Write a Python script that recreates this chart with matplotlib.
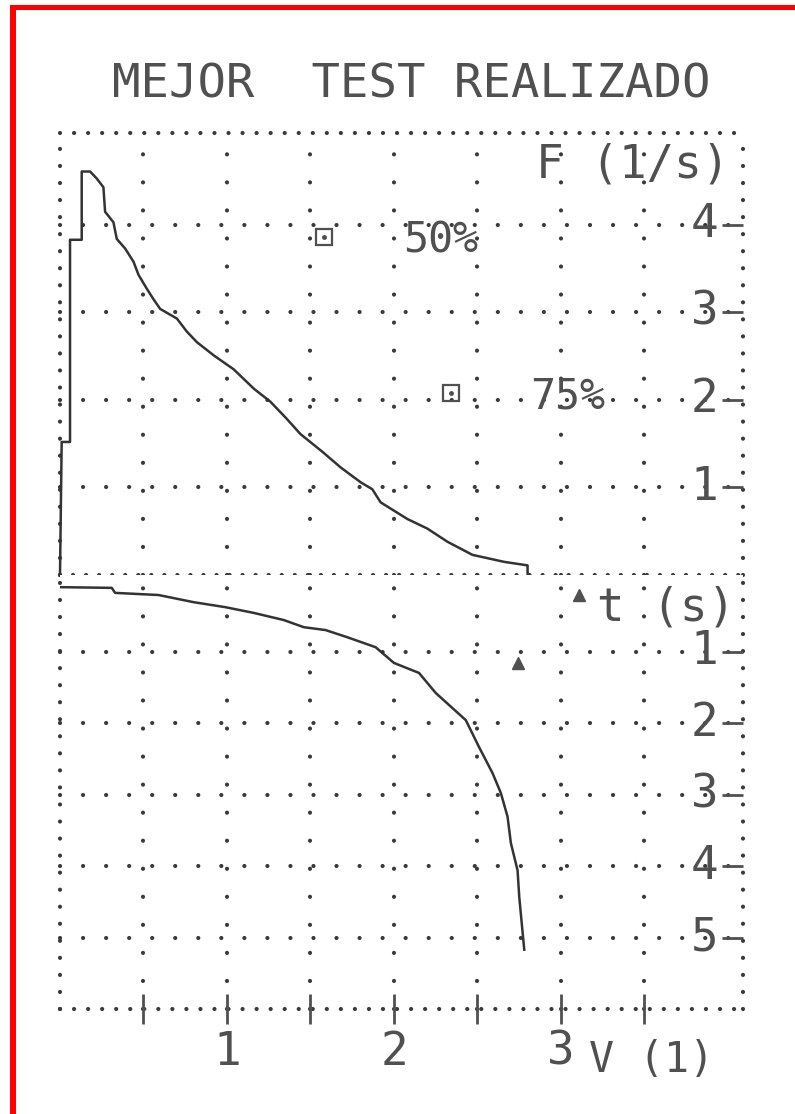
import matplotlib
matplotlib.use("Agg")
import matplotlib.pyplot as plt
from matplotlib.patches import Rectangle

plt.rcParams['font.family'] = ['DejaVu Sans Mono', 'DejaVu Sans']

# flow-volume curve (top half): volume in litres, flow in l/s
fv_volume = [0.0, 0.01, 0.06, 0.06, 0.13, 0.13, 0.18, 0.22, 0.26, 0.27, 0.32, 0.34,
             0.39, 0.44, 0.47, 0.52, 0.56, 0.60, 0.70, 0.76, 0.82, 0.92, 1.04, 1.16,
             1.26, 1.36, 1.44, 1.57, 1.68, 1.80, 1.87, 1.92, 2.08, 2.20, 2.32, 2.47,
             2.66, 2.80, 2.80]
fv_flow = [0.0, 1.52, 1.52, 3.83, 3.83, 4.61, 4.61, 4.53, 4.43, 4.15, 4.03, 3.84,
           3.73, 3.58, 3.43, 3.27, 3.15, 3.04, 2.93, 2.78, 2.66, 2.51, 2.35, 2.13,
           1.98, 1.78, 1.61, 1.41, 1.23, 1.06, 0.98, 0.83, 0.64, 0.53, 0.38, 0.23,
           0.15, 0.11, 0.0]

# volume-time curve (bottom half): volume in litres, time in s (downwards)
vt_volume = [0.0, 0.31, 0.33, 0.59, 0.80, 0.99, 1.16, 1.34, 1.46, 1.59, 1.72, 1.89,
             2.00, 2.15, 2.25, 2.43, 2.51, 2.59, 2.64, 2.68, 2.70, 2.74, 2.75, 2.78]
vt_time = [0.10, 0.11, 0.18, 0.21, 0.31, 0.38, 0.46, 0.56, 0.66, 0.70, 0.80, 0.94,
           1.16, 1.30, 1.58, 1.96, 2.34, 2.70, 2.98, 3.31, 3.68, 4.06, 4.43, 5.17]

# predicted points
pct_labels = ['50%', '75%']
pct_volume = [1.58, 2.34]
pct_flow = [3.86, 2.08]
tri_volume = [3.11, 2.74]
tri_time = [0.21, 1.16]

vol_ticks = [0.5, 1.0, 1.5, 2.0, 2.5, 3.0, 3.5]
vol_labels = ['', '1', '', '2', '', '3', '']
flow_ticks = [1, 2, 3, 4]
time_ticks = [1, 2, 3, 4, 5]

XMAX = 4.09
FMAX = 5.05
TMIN, TMAX = -0.07, 6.0

INK = '#505050'
DOTS = '#3a3a3a'
CURVE = '#333333'
DOT_PX = 4.2


def dotted(spacing_px):
    return (0, (0.01, spacing_px / DOT_PX))


def hdots(ax, y, spacing):
    ax.axhline(y, color=DOTS, lw=DOT_PX * 0.72, ls=dotted(spacing),
               dash_capstyle='round', clip_on=False, zorder=1)


def vdots(ax, x, spacing):
    ax.axvline(x, color=DOTS, lw=DOT_PX * 0.72, ls=dotted(spacing),
               dash_capstyle='round', clip_on=False, zorder=1)


fig = plt.figure(figsize=(7.95, 11.14), dpi=100)
W, H = 795, 1114
left, right = 60, 743
ax_top = fig.add_axes([left / W, 1 - 575 / H, (right - left) / W, (575 - 133) / H])
ax_bot = fig.add_axes([left / W, 1 - 1009 / H, (right - left) / W, (1009 - 575) / H])

ax_top.set_xlim(0, XMAX)
ax_top.set_ylim(0, FMAX)
ax_bot.set_xlim(0, XMAX)
ax_bot.set_ylim(TMAX, TMIN)

for ax in (ax_top, ax_bot):
    for s in ax.spines.values():
        s.set_visible(False)
    for x in vol_ticks:
        vdots(ax, x, 28)
    vdots(ax, 0, 17)
    vdots(ax, XMAX, 17)

for f in flow_ticks:
    hdots(ax_top, f, 23)
for t in time_ticks:
    hdots(ax_bot, t, 23)
hdots(ax_top, FMAX, 14)
hdots(ax_top, 0, 13)
hdots(ax_bot, TMAX, 14)

# curves
ax_top.plot(fv_volume, fv_flow, color=CURVE, lw=1.8, zorder=3, clip_on=False)
ax_bot.plot(vt_volume, vt_time, color=CURVE, lw=1.8, zorder=3)

# predicted markers
ax_top.plot(pct_volume, pct_flow, ls='none', marker='s', ms=11, mfc='none',
            mec=INK, mew=1.6, zorder=3)
ax_top.plot(pct_volume, pct_flow, ls='none', marker='o', ms=2.5, color=INK, zorder=3)
for v, f, lab in zip(pct_volume, pct_flow, pct_labels):
    ax_top.text(v + 0.70, f - 0.04, lab, fontsize=30, color=INK,
                ha='center', va='center')
ax_bot.plot(tri_volume, tri_time, ls='none', marker='^', ms=9, color=INK, zorder=3)

# right-hand scales (inside the frame)
label_x = 3.86
for f in flow_ticks:
    ax_top.text(label_x, f, str(f), fontsize=33, color=INK, ha='center', va='center')
for t in time_ticks:
    ax_bot.text(label_x, t, str(t), fontsize=33, color=INK, ha='center', va='center')

ax_top.yaxis.tick_right()
ax_top.set_yticks(flow_ticks)
ax_top.set_yticklabels([])
ax_top.tick_params(axis='y', direction='in', length=15, width=2, color=INK)
ax_top.set_xticks([])

ax_bot.yaxis.tick_right()
ax_bot.set_yticks(time_ticks)
ax_bot.set_yticklabels([])
ax_bot.tick_params(axis='y', direction='in', length=15, width=2, color=INK)

ax_bot.set_xticks(vol_ticks)
ax_bot.set_xticklabels(vol_labels)
ax_bot.tick_params(axis='x', direction='inout', length=22, width=2, color=INK,
                   labelsize=33, labelcolor=INK, pad=4)

# axis names
ax_top.text(3.43, 4.69, 'F (1/s)', fontsize=33, color=INK, ha='center', va='center')
ax_bot.text(3.63, 0.39, 't (s)', fontsize=33, color=INK, ha='center', va='center')
ax_bot.text(3.54, 6.71, 'V (1)', fontsize=30, color=INK, ha='center', va='center',
            clip_on=False)

fig.text(411 / W, 1 - 85 / H, 'MEJOR  TEST REALIZADO', fontsize=34, color=INK,
         ha='center', va='center')

# red frame of the scan
fig.add_artist(Rectangle((10 / W, 0), 6 / W, 1 - 5 / H, transform=fig.transFigure,
                         color='#ff0000', lw=0))
fig.add_artist(Rectangle((10 / W, 1 - 10 / H), 1, 5 / H, transform=fig.transFigure,
                         color='#ff0000', lw=0))

fig.savefig('out.png', dpi=100, facecolor='white')
